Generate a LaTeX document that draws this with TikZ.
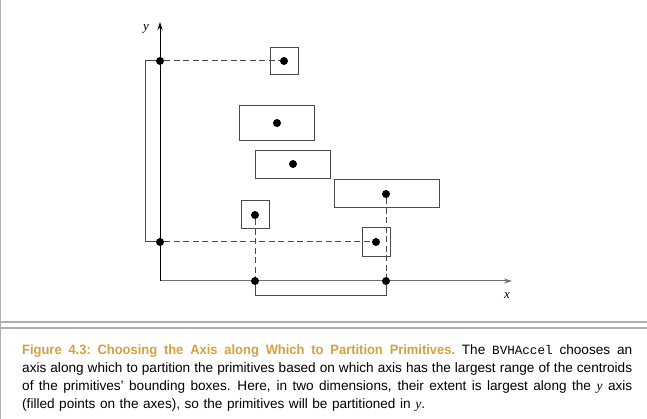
\documentclass[tikz,border=0pt]{standalone}
\usepackage{fontspec}
\setmainfont{Liberation Sans}
\newfontfamily\codefont{Liberation Mono}
\newfontfamily\varfont{Liberation Serif}
\newfontfamily\headfont[FakeStretch=0.95]{Liberation Sans Bold}
\usepackage{xcolor}
\usetikzlibrary{positioning,calc,arrows.meta}
\definecolor{capgold}{RGB}{214,160,62}
\definecolor{linegray}{RGB}{75,75,75}
\definecolor{axisgray}{RGB}{110,110,110}
\definecolor{framegray}{RGB}{175,175,175}

\tikzset{
  bbox/.style={draw=linegray, line width=1pt, inner sep=0pt},
  cdot/.style={circle, fill=black, inner sep=0pt, minimum size=8pt},
  guide/.style={dash pattern=on 6pt off 3.5pt, line width=1pt, draw=linegray},
  varlabel/.style={font=\fontsize{13}{13}\selectfont\varfont\itshape},
}
\newcommand{\capline}[1]{\leavevmode\hbox to 610pt{\spaceskip=0.28em plus 1em minus 0.1em #1}}

\begin{document}
\begin{tikzpicture}[x=1pt, y=-1pt]
  \useasboundingbox (0,0) rectangle (647,419);

  % frame round figure and caption
  \draw[framegray, line width=1.2pt] (0.6,0) -- (0.6,419);
  \draw[framegray, line width=1.2pt] (0,322) -- (647,322);
  \draw[framegray, line width=1.2pt] (0,328) -- (647,328);

  % axes
  \coordinate (o) at (160,281);
  \coordinate (ytip) at (160,22);
  \coordinate (xtip) at (512,281);
  \draw[axisgray, line width=1pt, -{Stealth[length=8pt,width=5pt]}] (o) -- (xtip);
  \draw[black, line width=0.9pt, -{Stealth[length=8pt,width=5pt]}] (o) -- (ytip);
  \node[varlabel] (ylab) at (146,29) {y};
  \node[varlabel] (xlab) at (507,296) {x};

  % bounding boxes of the primitives
  \node[bbox, minimum width=28pt, minimum height=27pt] (b1) at (284,61.5) {};
  \node[bbox, minimum width=75pt, minimum height=35pt] (b2) at (276.5,123.5) {};
  \node[bbox, minimum width=75pt, minimum height=28pt] (b3) at (292.5,165) {};
  \node[bbox, minimum width=105pt, minimum height=28pt] (b4) at (386.5,193.5) {};
  \node[bbox, minimum width=28pt, minimum height=28pt] (b5) at (255,215) {};
  \node[bbox, minimum width=28pt, minimum height=29pt] (b6) at (376,242.5) {};

  % centroids
  \node[cdot] (c1) at (284,61) {};
  \node[cdot] (c2) at (277,123) {};
  \node[cdot] (c3) at (293,164) {};
  \node[cdot] (c4) at (386,194) {};
  \node[cdot] (c5) at (255,215) {};
  \node[cdot] (c6) at (376,242) {};

  % projected points on the axes
  \node[cdot] (ya) at (160,61) {};
  \node[cdot] (yb) at (160,242) {};
  \node[cdot] (xa) at (255,281) {};
  \node[cdot] (xb) at (386,281) {};

  \draw[guide] (ya) -- (c1);
  \draw[guide] (yb) -- (c6);
  \draw[guide] (c5) -- (xa);
  \draw[guide] (c4) -- (xb);

  % extents
  \draw[linegray, line width=1pt] (ya.west) -- ++(-10,0) |- (yb.west);
  \draw[linegray, line width=1pt] (xa.south) -- ++(0,10) -| (xb.south);

  % caption
  \node[anchor=north west, text width=610pt, align=left, inner sep=0pt,
        font=\fontsize{13.6}{18}\selectfont] (caption) at (22,344.5)
  {\capline{{\color{capgold}\headfont Figure 4.3: Choosing the Axis along Which to Partition Primitives.}
   The {\codefont\fontsize{12.6}{18}\selectfont BVHAccel} chooses an}\\
   \capline{axis along which to partition the primitives based on which axis has the largest range of the centroids}\\
   \capline{of the primitives’ bounding boxes. Here, in two dimensions, their extent is largest along the {\varfont\itshape y} axis}\\
   (filled points on the axes), so the primitives will be partitioned in {\varfont\itshape y}.};
\end{tikzpicture}
\end{document}
